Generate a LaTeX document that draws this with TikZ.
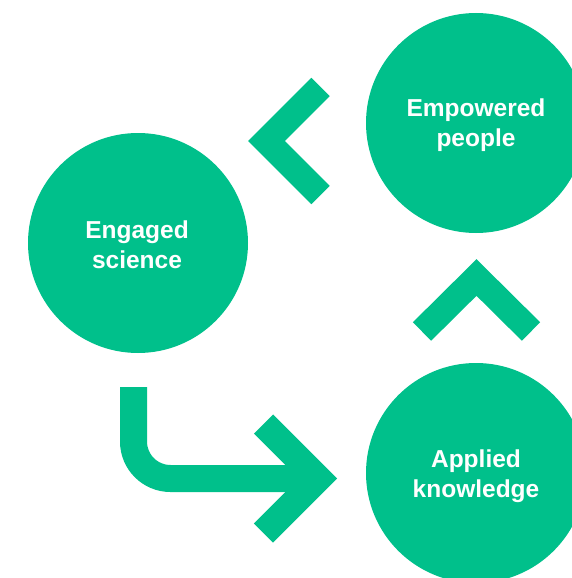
\documentclass[tikz,border=0pt]{standalone}
\usepackage{fontspec}
\setmainfont{Liberation Sans}
\definecolor{brandgreen}{HTML}{00C08B}
\begin{document}
\begin{tikzpicture}[x=1pt,y=-1pt,
  bubble/.style={circle,fill=brandgreen,minimum size=220pt,inner sep=0pt},
  label/.style={text=white,align=center,font=\fontsize{24.5}{30}\selectfont\bfseries},
  chevron/.style={draw=brandgreen,line width=26pt,line join=miter,line cap=butt},
  bent/.style={draw=brandgreen,line width=27pt,line join=miter,line cap=butt}]
\useasboundingbox (0,0) rectangle (572,578);
\clip (0,0) rectangle (572,578);
\node[bubble] (engaged) at (138,243) {};
\node[bubble] (empowered) at (476,123) {};
\node[bubble] (applied) at (476,473) {};
\node[label] (engagedtxt) at (137,245) {Engaged\\science};
\node[label] (empoweredtxt) at (476,125) {Empowered\\people};
\node[label] (appliedtxt) at (476,476) {Applied\\knowledge};
% left chevron
\draw[chevron] (320.5,87) -- (266.5,141) -- (320.5,195);
% up chevron
\draw[chevron] (422,331.5) -- (476.5,277.5) -- (531,331.5);
% bent arrow
\draw[bent,rounded corners=37pt] (133.5,387) |- (318,478.5);
\draw[chevron,line width=27pt] (263.5,424) -- (318,478.5) -- (263.5,533);
\end{tikzpicture}
\end{document}
